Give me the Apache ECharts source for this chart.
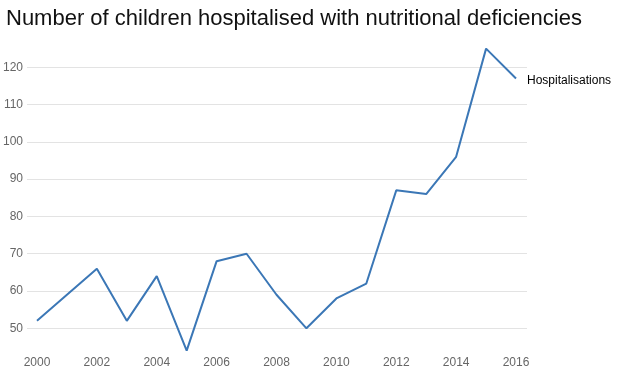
<!DOCTYPE html>
<html>
<head>
<meta charset="utf-8">
<script src="https://cdn.jsdelivr.net/npm/echarts@6/dist/echarts.min.js"></script>
<style>html,body{margin:0;padding:0;background:#fff}#c{width:617px;height:386px}</style>
</head>
<body>
<div id="c"></div>
<script>
const years = [2000,2001,2002,2003,2004,2005,2006,2007,2008,2009,2010,2011,2012,2013,2014,2015,2016];
const hospitalisations = [52,59,66,52,64,44,68,70,59,50,58,62,87,86,96,125,117];
const xTicks = [2000,2002,2004,2006,2008,2010,2012,2014,2016];
const yTicks = [50,60,70,80,90,100,110,120];
const seriesName = 'Hospitalisations';
const titleText = 'Number of children hospitalised with nutritional deficiencies';

const chart = echarts.init(document.getElementById('c'));
chart.setOption({
  animation: false,
  title: {
    text: titleText,
    left: 1, top: 3,
    textStyle: { fontFamily: 'Liberation Sans, Helvetica, Arial, sans-serif', fontSize: 22, fontWeight: 'normal', color: '#111' }
  },
  grid: { left: 26, right: 90, top: 44.9, bottom: 31.6, containLabel: false },
  xAxis: {
    type: 'value',
    min: 1999.667, max: 2016.367,
    axisLine: { show: false },
    axisTick: { show: false, customValues: xTicks },
    splitLine: { show: false },
    axisLabel: {
      customValues: xTicks,
      margin: 2,
      color: '#666',
      fontSize: 12,
      fontFamily: 'Liberation Sans, Helvetica, Arial, sans-serif',
      formatter: v => String(v)
    }
  },
  yAxis: {
    type: 'value',
    min: 43, max: 126,
    axisLine: { show: false },
    axisTick: { show: false, customValues: yTicks },
    splitLine: { show: true, lineStyle: { color: '#e3e3e3', width: 1 } },
    axisLabel: {
      customValues: yTicks,
      margin: 4,
      color: '#666',
      fontSize: 12,
      fontFamily: 'Liberation Sans, Helvetica, Arial, sans-serif'
    }
  },
  series: [{
    name: seriesName,
    type: 'line',
    data: years.map((y, i) => [y, hospitalisations[i]]),
    showSymbol: false,
    clip: false,
    lineStyle: { color: '#3b77b6', width: 2 },
    itemStyle: { color: '#3b77b6' },
    endLabel: {
      show: true,
      formatter: '{a}',
      distance: 11,
      offset: [0, 2],
      color: '#000',
      fontSize: 12,
      fontFamily: 'Liberation Sans, Helvetica, Arial, sans-serif'
    },
    labelLine: { show: false }
  }]
});
</script>
</body>
</html>
